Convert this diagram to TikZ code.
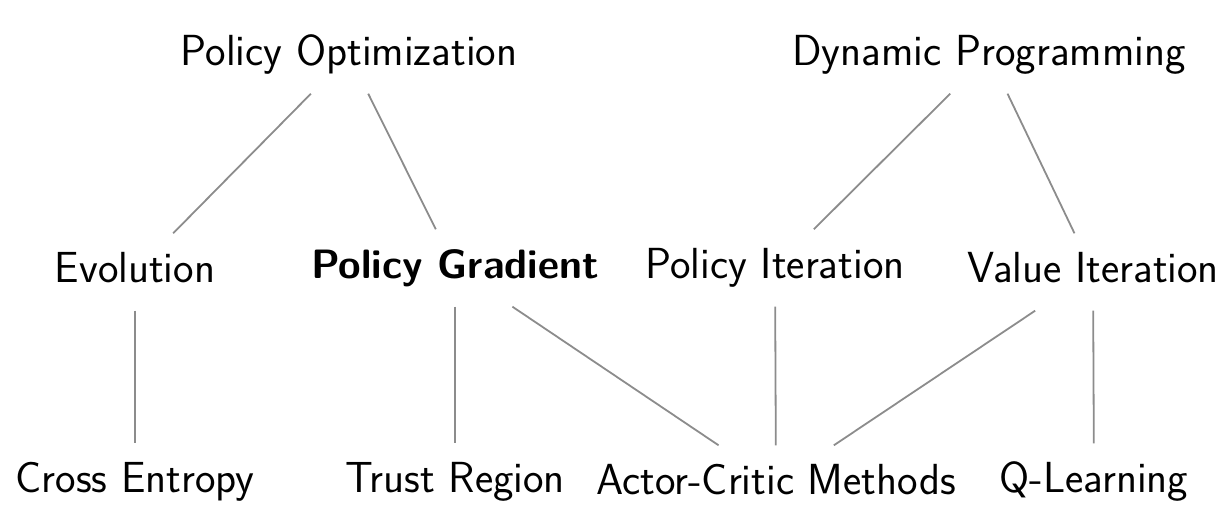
\documentclass[tikz,border=0pt]{standalone}
\usepackage{fontspec}
\begin{document}
\begin{tikzpicture}[x=1pt,y=-1pt,
  lbl/.style={font=\sffamily\fontsize{43.5}{50}\selectfont, text height=30pt, text depth=9pt, inner xsep=4pt, inner ysep=19pt},
  edge/.style={draw=black!45, line width=1.8pt}]
\useasboundingbox (0,0) rectangle (1230,510);
\node[lbl] (po) at (349,55) {Policy Optimization};
\node[lbl] (dp) at (989,55) {Dynamic Programming};
\node[lbl] (ev) at (135,272) {Evolution};
\node[lbl,font=\sffamily\bfseries\fontsize{41}{48}\selectfont] (pg) at (455,268) {Policy Gradient};
\node[lbl] (pi) at (775,268) {Policy Iteration};
\node[lbl] (vi) at (1093,272) {Value Iteration};
\node[lbl] (ce) at (135,482) {Cross Entropy};
\node[lbl] (tr) at (455,482) {Trust Region};
\node[lbl] (ac) at (776,484) {Actor-Critic Methods};
\node[lbl] (ql) at (1094,482) {Q-Learning};
\draw[edge] (po) -- (ev);
\draw[edge] (po) -- (pg);
\draw[edge] (dp) -- (pi);
\draw[edge] (dp) -- (vi);
\draw[edge] (ev) -- (ce);
\draw[edge] (pg) -- (tr);
\draw[edge] (pg) -- (ac);
\draw[edge] (pi) -- (ac);
\draw[edge] (vi) -- (ac);
\draw[edge] (vi) -- (ql);
\end{tikzpicture}
\end{document}
